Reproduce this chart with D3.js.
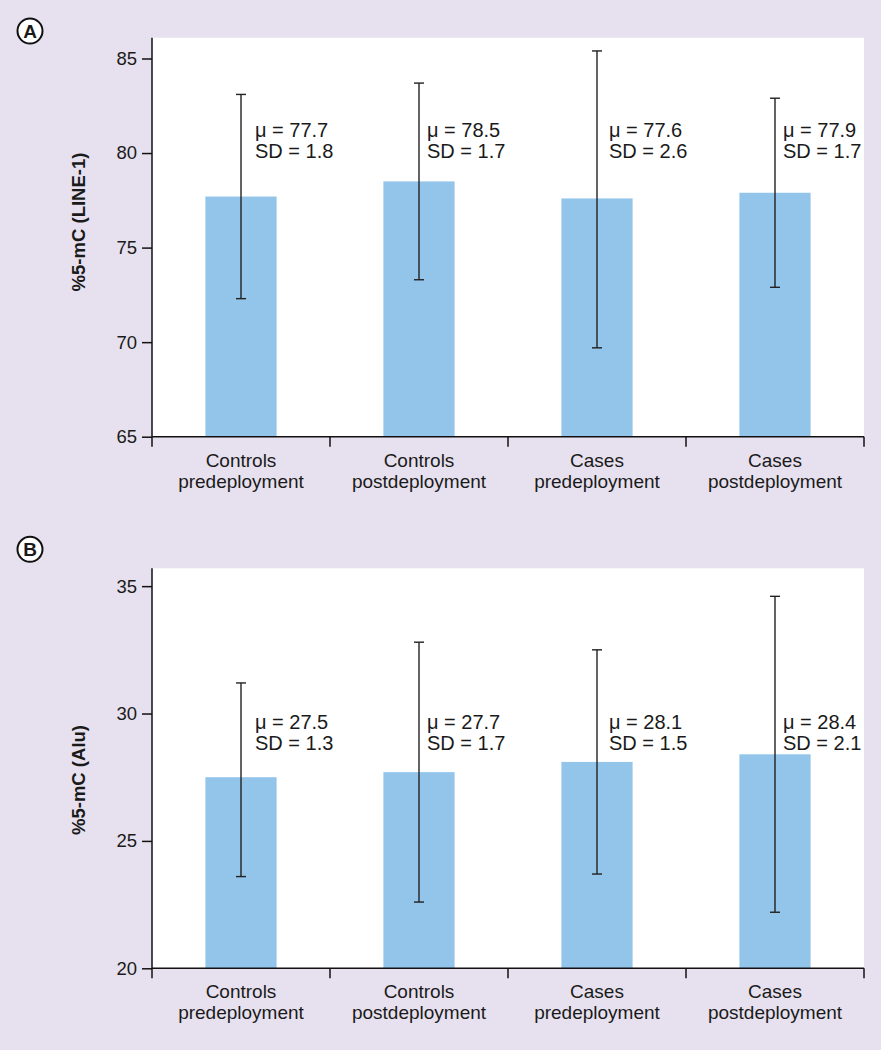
<!DOCTYPE html>
<html>
<head>
<meta charset="utf-8">
<script src="https://cdn.jsdelivr.net/npm/d3@7"></script>
<style>
  html, body { margin: 0; padding: 0; background: #e7e1ef; }
  svg { display: block; }
  text { font-family: "Liberation Sans", Arial, Helvetica, sans-serif; fill: #1a1a1a; }
</style>
</head>
<body>
<svg id="chart" width="881" height="1050"></svg>
<script>
// ---------- data ----------
const categories = ["Controls predeployment", "Controls postdeployment", "Cases predeployment", "Cases postdeployment"];

const lineMeans = [77.7, 78.5, 77.6, 77.9];
const lineSD    = [1.8, 1.7, 2.6, 1.7];
const lineLow   = [72.3, 73.3, 69.7, 72.9];
const lineHigh  = [83.1, 83.7, 85.4, 82.9];
const lineTicks = [65, 70, 75, 80, 85];

const aluMeans = [27.5, 27.7, 28.1, 28.4];
const aluSD    = [1.3, 1.7, 1.5, 2.1];
const aluLow   = [23.6, 22.6, 23.7, 22.2];
const aluHigh  = [31.2, 32.8, 32.5, 34.6];
const aluTicks = [20, 25, 30, 35];

// ---------- layout ----------
const svg = d3.select("#chart");
const left = 152, right = 864;
const labelDx = [14, 8, 12, 8];

const panels = [
  { letter: "A", yLabel: "%5-mC (LINE-1)", means: lineMeans, sd: lineSD, low: lineLow, high: lineHigh, ticks: lineTicks,
    domain: [65, 86.1], top: 37.7, bottom: 436.7, annY: 137, labelCenter: 222, circleY: 31 },
  { letter: "B", yLabel: "%5-mC (Alu)", means: aluMeans, sd: aluSD, low: aluLow, high: aluHigh, ticks: aluTicks,
    domain: [20, 35.7], top: 568.3, bottom: 968.3, annY: 729, labelCenter: 780, circleY: 549.3 }
];

const x = d3.scaleBand().domain(categories).range([left, right]).padding(0);
const barW = x.bandwidth() * 0.4;
const capW = 10;

panels.forEach(p => {
  const y = d3.scaleLinear().domain(p.domain).range([p.bottom, p.top]);
  const g = svg.append("g");

  // plot background
  g.append("rect").attr("x", left).attr("y", p.top)
    .attr("width", right - left).attr("height", p.bottom - p.top).attr("fill", "#ffffff");

  // bars
  g.selectAll("rect.bar").data(categories).join("rect").attr("class", "bar")
    .attr("x", c => x(c) + (x.bandwidth() - barW) / 2)
    .attr("y", (c, i) => y(p.means[i]))
    .attr("width", barW)
    .attr("height", (c, i) => y(p.domain[0]) - y(p.means[i]))
    .attr("fill", "#93c4ea");

  // error bars
  const eb = g.selectAll("g.err").data(categories).join("g").attr("class", "err")
    .attr("stroke", "#222").attr("stroke-width", 1.4);
  eb.append("line")
    .attr("x1", c => x(c) + x.bandwidth() / 2).attr("x2", c => x(c) + x.bandwidth() / 2)
    .attr("y1", (c, i) => y(p.low[i])).attr("y2", (c, i) => y(p.high[i]));
  eb.append("line")
    .attr("x1", c => x(c) + x.bandwidth() / 2 - capW / 2).attr("x2", c => x(c) + x.bandwidth() / 2 + capW / 2)
    .attr("y1", (c, i) => y(p.high[i])).attr("y2", (c, i) => y(p.high[i]));
  eb.append("line")
    .attr("x1", c => x(c) + x.bandwidth() / 2 - capW / 2).attr("x2", c => x(c) + x.bandwidth() / 2 + capW / 2)
    .attr("y1", (c, i) => y(p.low[i])).attr("y2", (c, i) => y(p.low[i]));

  // annotations
  const ann = g.selectAll("text.ann").data(categories).join("text").attr("class", "ann")
    .attr("x", (c, i) => x(c) + x.bandwidth() / 2 + labelDx[i])
    .attr("y", p.annY)
    .attr("font-size", 20);
  ann.append("tspan").text((c, i) => "\u03bc = " + p.means[i].toFixed(1));
  ann.append("tspan").attr("x", (c, i) => x(c) + x.bandwidth() / 2 + labelDx[i]).attr("dy", 20.5)
    .text((c, i) => "SD = " + p.sd[i].toFixed(1));

  // y axis
  const yAxis = g.append("g").attr("transform", `translate(${left},0)`)
    .call(d3.axisLeft(y).tickValues(p.ticks).tickSize(10).tickSizeOuter(0).tickPadding(5).tickFormat(d3.format("d")));
  yAxis.select(".domain").remove();
  yAxis.selectAll(".tick line").attr("stroke", "#111").attr("stroke-width", 1.5);
  yAxis.selectAll(".tick text").attr("font-size", 18.5).attr("font-family", '"Liberation Sans", Arial, sans-serif').attr("fill", "#1a1a1a");

  // y axis line (extends down as first category tick)
  g.append("line").attr("x1", left).attr("x2", left).attr("y1", p.top).attr("y2", p.bottom + 10)
    .attr("stroke", "#111").attr("stroke-width", 1.5);

  // x axis line
  g.append("line").attr("x1", left).attr("x2", right).attr("y1", p.bottom).attr("y2", p.bottom)
    .attr("stroke", "#111").attr("stroke-width", 1.5);
  // boundary ticks
  const bounds = categories.map(c => x(c)).concat([x.range()[1]]);
  g.selectAll("line.btick").data(bounds.slice(1)).join("line").attr("class", "btick")
    .attr("x1", d => d).attr("x2", d => d).attr("y1", p.bottom).attr("y2", p.bottom + 10)
    .attr("stroke", "#111").attr("stroke-width", 1.5);

  // category labels
  const xAxis = g.append("g").attr("transform", `translate(0,${p.bottom})`)
    .call(d3.axisBottom(x).tickSize(0).tickPadding(0));
  xAxis.select(".domain").remove();
  xAxis.selectAll(".tick text").each(function(d) {
    const t = d3.select(this);
    const parts = d.split(" ");
    t.text(null).attr("y", 0).attr("dy", null)
      .attr("font-size", 19).attr("font-family", '"Liberation Sans", Arial, sans-serif').attr("fill", "#1a1a1a");
    t.append("tspan").attr("x", 0).attr("y", 30).text(parts[0]);
    t.append("tspan").attr("x", 0).attr("y", 51).text(parts[1]);
  });

  // y label
  g.append("text")
    .attr("transform", `translate(85,${p.labelCenter}) rotate(-90)`)
    .attr("text-anchor", "middle")
    .attr("font-size", 18.5).attr("font-weight", "bold")
    .text(p.yLabel);

  // panel letter
  g.append("circle").attr("cx", 30).attr("cy", p.circleY).attr("r", 12.5)
    .attr("fill", "#ffffff").attr("stroke", "#111").attr("stroke-width", 2);
  g.append("text").attr("x", 30).attr("y", p.circleY + 7)
    .attr("text-anchor", "middle").attr("font-size", 19).attr("font-weight", "bold")
    .text(p.letter);
});
</script>
</body>
</html>
